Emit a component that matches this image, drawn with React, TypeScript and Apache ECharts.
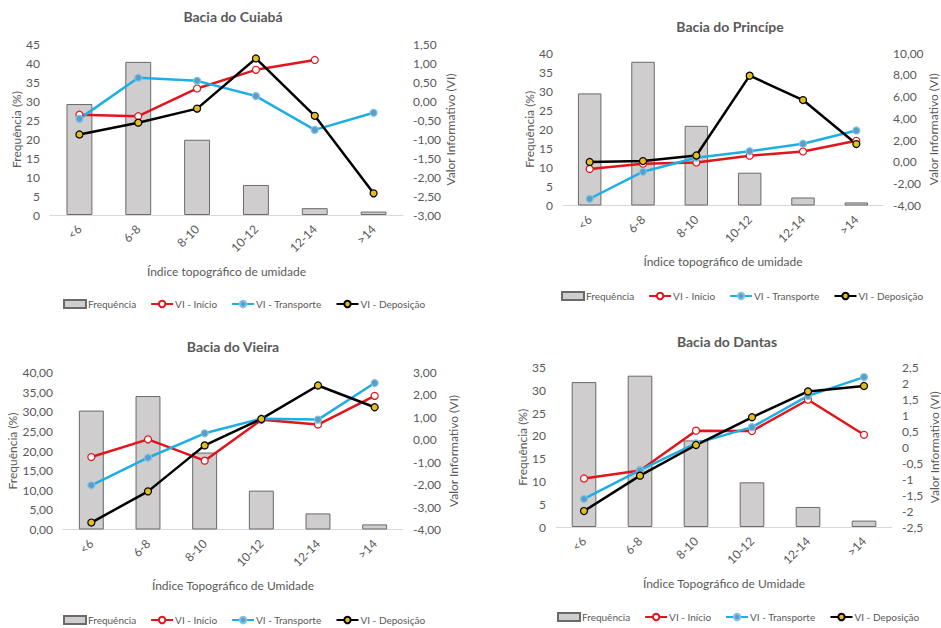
import React, { useEffect, useRef } from "react";
import * as echarts from "echarts";

const categories = ["<6", "6-8", "8-10", "10-12", "12-14", ">14"];

const titles = ["Bacia do Cuiabá", "Bacia do Princípe", "Bacia do Vieira", "Bacia do Dantas"];
const xNames = [
  "Índice topográfico de umidade",
  "Índice topográfico de umidade",
  "Índice Topográfico de Umidade",
  "Índice Topográfico de Umidade",
];

// Cuiabá
const freqCuiaba = [29.2, 40.3, 19.8, 7.9, 1.8, 0.9];
const inicioCuiaba = [-0.36, -0.4, 0.33, 0.82, 1.08, null];
const transporteCuiaba = [-0.47, 0.61, 0.53, 0.13, -0.76, -0.31];
const deposicaoCuiaba = [-0.88, -0.57, -0.2, 1.12, -0.39, -2.43];

// Princípe
const freqPrincipe = [29.4, 37.7, 20.9, 8.6, 2.1, 0.8];
const inicioPrincipe = [-0.64, -0.17, -0.05, 0.57, 0.96, 1.94];
const transportePrincipe = [-3.38, -0.9, 0.38, 0.98, 1.67, 2.89];
const deposicaoPrincipe = [0.0, 0.08, 0.59, 7.92, 5.68, 1.64];

// Vieira
const freqVieira = [30.3, 34.0, 19.6, 9.9, 4.1, 1.3];
const inicioVieira = [-0.77, 0.02, -0.93, 0.89, 0.68, 1.96];
const transporteVieira = [-2.03, -0.8, 0.29, 0.94, 0.9, 2.53];
const deposicaoVieira = [-3.69, -2.3, -0.25, 0.93, 2.42, 1.45];

// Dantas
const freqDantas = [31.8, 33.2, 19.0, 9.8, 4.4, 1.4];
const inicioDantas = [-0.98, -0.73, 0.52, 0.51, 1.49, 0.39];
const transporteDantas = [-1.62, -0.72, 0.12, 0.63, 1.61, 2.2];
const deposicaoDantas = [-2.0, -0.89, 0.07, 0.94, 1.75, 1.92];

const freqs = [freqCuiaba, freqPrincipe, freqVieira, freqDantas];
const inicios = [inicioCuiaba, inicioPrincipe, inicioVieira, inicioDantas];
const transportes = [transporteCuiaba, transportePrincipe, transporteVieira, transporteDantas];
const deposicoes = [deposicaoCuiaba, deposicaoPrincipe, deposicaoVieira, deposicaoDantas];

// axis ranges [min, max, interval]
const leftAxes = [
  [0, 45, 5],
  [0, 40, 5],
  [0, 40, 5],
  [0, 35, 5],
];
const rightAxes = [
  [-3, 1.5, 0.5],
  [-4, 10, 2],
  [-4, 3, 1],
  [-2.5, 2.5, 0.5],
];
const leftDecimals = [0, 0, 2, 0];
const rightDecimals = [2, 2, 2, -1];

const grids = [
  { left: 50, top: 44, width: 353, height: 171 },
  { left: 563, top: 53, width: 320, height: 152.5 },
  { left: 63, top: 372.5, width: 340, height: 157 },
  { left: 556, top: 367.5, width: 336, height: 159.5 },
];
const titlePos = [
  [233, 18],
  [730, 28],
  [233, 348],
  [727, 343],
];
const legendPos = [
  [63, 304],
  [561, 296],
  [63, 620],
  [557, 617],
];
const leftNameGaps = [28, 28, 42, 26];
const rightNameGaps = [41, 43, 44, 36];

const FONT = "Lato, 'Open Sans', sans-serif";
const GRAY = "#595959";

function fmt(v: number, d: number) {
  if (d < 0) return String(Math.round(v * 100) / 100).replace(".", ",");
  return v.toFixed(d).replace(".", ",");
}

export default function App() {
  const ref = useRef<HTMLDivElement>(null);
  useEffect(() => {
    if (!ref.current) return;
    const chart = echarts.init(ref.current, null, { renderer: "svg" });
    const grid: any[] = [];
    const xAxis: any[] = [];
    const yAxis: any[] = [];
    const series: any[] = [];
    const title: any[] = [];
    const legend: any[] = [];
    for (let i = 0; i < 4; i++) {
      grid.push({ ...grids[i], containLabel: false, outerBoundsMode: "none" });
      title.push({
        text: titles[i],
        left: titlePos[i][0],
        top: titlePos[i][1] - 9,
        textAlign: "center",
        padding: 0,
        textStyle: { fontFamily: FONT, fontSize: 14, fontWeight: "bold", color: GRAY },
      });
      legend.push({
        left: legendPos[i][0],
        top: legendPos[i][1] - 5,
        padding: 0,
        itemGap: 14,
        itemWidth: 22,
        itemHeight: 8,
        textStyle: { fontFamily: FONT, fontSize: 10, color: GRAY, padding: [0, 0, 0, -3] },
        data: [
          { name: "Frequência", icon: "rect" },
          "VI - Início",
          "VI - Transporte",
          "VI - Deposição",
        ],
      });
      xAxis.push({
        type: "category",
        gridIndex: i,
        data: categories,
        name: xNames[i],
        nameLocation: "middle",
        nameGap: 50,
        nameTextStyle: { fontFamily: FONT, fontSize: 12, color: GRAY },
        axisLine: { lineStyle: { color: "#D9D9D9", width: 1 } },
        axisTick: { show: false },
        axisLabel: { rotate: 45, margin: 12, fontFamily: FONT, fontSize: 12, color: GRAY, interval: 0 },
        splitLine: { show: false },
      });
      const la = leftAxes[i];
      const ra = rightAxes[i];
      const ld = leftDecimals[i];
      const rd = rightDecimals[i];
      yAxis.push({
        type: "value",
        gridIndex: i,
        position: "left",
        min: la[0],
        max: la[1],
        interval: la[2],
        name: "Frequência (%)",
        nameLocation: "middle",
        nameRotate: 90,
        nameGap: leftNameGaps[i],
        nameTextStyle: { fontFamily: FONT, fontSize: 12, color: GRAY },
        axisLine: { show: false },
        axisTick: { show: false },
        splitLine: { show: false },
        axisLabel: {
          margin: 10,
          fontFamily: FONT,
          fontSize: 12,
          color: GRAY,
          formatter: (v: number) => fmt(v, ld),
        },
      });
      yAxis.push({
        type: "value",
        gridIndex: i,
        position: "right",
        min: ra[0],
        max: ra[1],
        interval: ra[2],
        name: "Valor Informativo (VI)",
        nameLocation: "middle",
        nameRotate: 90,
        nameGap: rightNameGaps[i],
        nameTextStyle: { fontFamily: FONT, fontSize: 12, color: GRAY },
        axisLine: { show: false },
        axisTick: { show: false },
        splitLine: { show: false },
        axisLabel: {
          margin: 10,
          fontFamily: FONT,
          fontSize: 12,
          color: GRAY,
          formatter: (v: number) => fmt(v, rd),
        },
      });
      series.push({
        name: "Frequência",
        type: "bar",
        xAxisIndex: i,
        yAxisIndex: 2 * i,
        data: freqs[i],
        barWidth: "44%",
        itemStyle: { color: "#CFCDCD", borderColor: "#6A6A6A", borderWidth: 1 },
      });
      series.push({
        name: "VI - Início",
        type: "line",
        xAxisIndex: i,
        yAxisIndex: 2 * i + 1,
        data: inicios[i],
        symbol: "circle",
        symbolSize: 7,
        lineStyle: { color: "#E3141B", width: 2.5 },
        itemStyle: { color: "#FFFFFF", borderColor: "#E3141B", borderWidth: 1.2 },
      });
      series.push({
        name: "VI - Transporte",
        type: "line",
        xAxisIndex: i,
        yAxisIndex: 2 * i + 1,
        data: transportes[i],
        symbol: "circle",
        symbolSize: 7,
        lineStyle: { color: "#1EAEE6", width: 2.5 },
        itemStyle: { color: "#5E9CC8", borderColor: "#7EC4E6", borderWidth: 1.2 },
      });
      series.push({
        name: "VI - Deposição",
        type: "line",
        xAxisIndex: i,
        yAxisIndex: 2 * i + 1,
        data: deposicoes[i],
        symbol: "circle",
        symbolSize: 7,
        lineStyle: { color: "#000000", width: 2.5 },
        itemStyle: { color: "#E2BE1E", borderColor: "#000000", borderWidth: 1.2 },
      });
    }
    chart.setOption({
      animation: false,
      backgroundColor: "#FFFFFF",
      textStyle: { fontFamily: FONT },
      title,
      legend,
      grid,
      xAxis,
      yAxis,
      series,
    });
    return () => chart.dispose();
  }, []);
  return (
    <div
      ref={ref}
      style={{ position: "fixed", left: 0, top: 0, width: 941, height: 628 }}
    />
  );
}
